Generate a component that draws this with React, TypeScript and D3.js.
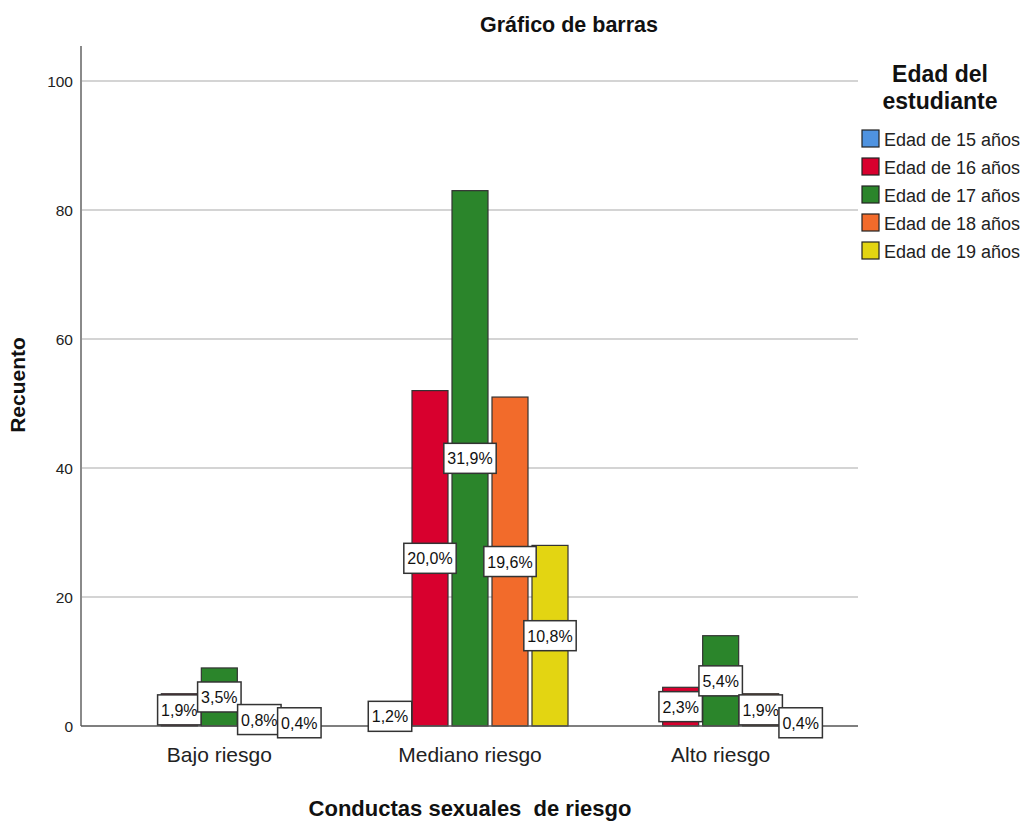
import React, { useEffect, useRef } from "react";
import * as d3 from "d3";

const categories = ["Bajo riesgo", "Mediano riesgo", "Alto riesgo"];
const series = ["Edad de 15 años", "Edad de 16 años", "Edad de 17 años", "Edad de 18 años", "Edad de 19 años"];
const colors = ["#4f93e0", "#d8002e", "#2b852b", "#f26b2b", "#e3d512"];
// counts per category, one value per age
const bajo = [0, 5, 9, 2, 1];
const mediano = [3, 52, 83, 51, 28];
const alto = [0, 6, 14, 5, 1];
const pctBajo = ["", "1,9%", "3,5%", "0,8%", "0,4%"];
const pctMediano = ["1,2%", "20,0%", "31,9%", "19,6%", "10,8%"];
const pctAlto = ["", "2,3%", "5,4%", "1,9%", "0,4%"];
const yTicks = [0, 20, 40, 60, 80, 100];

const counts = [bajo, mediano, alto];
const pcts = [pctBajo, pctMediano, pctAlto];

export default function App() {
  const ref = useRef<SVGSVGElement>(null);

  useEffect(() => {
    if (!ref.current) return;
    const svg = d3.select(ref.current);
    svg.selectAll("*").remove();
    const font = "'Liberation Sans', Arial, sans-serif";

    const left = 81, right = 858, bottom = 726;
    const y = d3.scaleLinear().domain([0, 100]).range([bottom, 81]);
    const x = d3.scaleBand<string>().domain(categories).range([94, 846]);
    const inner = d3.scaleBand<string>().domain(series).range([0, 200]).paddingInner(0.1).paddingOuter(0.05);
    const groupOffset = (x.bandwidth() - 200) / 2;

    svg.append("text")
      .attr("x", 569).attr("y", 32)
      .attr("text-anchor", "middle")
      .attr("font-family", font).attr("font-weight", "bold").attr("font-size", 21.5)
      .attr("fill", "#111")
      .text("Gráfico de barras");

    // grid
    svg.append("g").selectAll("line")
      .data(yTicks.filter((t) => t > 0))
      .join("line")
      .attr("x1", left).attr("x2", right)
      .attr("y1", (d) => y(d)).attr("y2", (d) => y(d))
      .attr("stroke", "#d4d4d4").attr("stroke-width", 2);

    svg.append("line")
      .attr("x1", left).attr("x2", left).attr("y1", 46).attr("y2", bottom)
      .attr("stroke", "#8a8a8a").attr("stroke-width", 2);

    svg.append("g").selectAll("text")
      .data(yTicks)
      .join("text")
      .attr("x", 73).attr("y", (d) => y(d) + 6)
      .attr("text-anchor", "end")
      .attr("font-family", font).attr("font-size", 15.5).attr("fill", "#222")
      .text((d) => d);

    categories.forEach((c, ci) => {
      const g = svg.append("g").attr("transform", `translate(${(x(c) ?? 0) + groupOffset},0)`);
      const vals = counts[ci];
      g.selectAll("rect")
        .data(vals.map((v, i) => ({ v, i })).filter((d) => d.v > 0))
        .join("rect")
        .attr("x", (d) => inner(series[d.i]) ?? 0)
        .attr("width", inner.bandwidth())
        .attr("y", (d) => y(d.v))
        .attr("height", (d) => bottom - y(d.v))
        .attr("fill", (d) => colors[d.i])
        .attr("stroke", "#333").attr("stroke-width", 1.2);
    });

    // baseline
    svg.append("line")
      .attr("x1", left).attr("x2", right).attr("y1", bottom).attr("y2", bottom)
      .attr("stroke", "#555").attr("stroke-width", 1.5);

    categories.forEach((c, ci) => {
      const g = svg.append("g").attr("transform", `translate(${(x(c) ?? 0) + groupOffset},0)`);
      const vals = counts[ci];
      const items = vals.map((v, i) => ({ v, i, t: pcts[ci][i] })).filter((d) => d.t !== "");
      const lab = g.selectAll("g").data(items).join("g")
        .attr("transform", (d) => `translate(${(inner(series[d.i]) ?? 0) + inner.bandwidth() / 2},${(y(d.v) + bottom) / 2})`);
      const rects = lab.append("rect")
        .attr("y", -15).attr("height", 30)
        .attr("fill", "#fff").attr("stroke", "#333").attr("stroke-width", 1.5);
      const texts = lab.append("text")
        .attr("y", 6).attr("text-anchor", "middle")
        .attr("font-family", font).attr("font-size", 16).attr("fill", "#111")
        .text((d) => d.t);
      texts.each(function (this: SVGTextElement, d, i) {
        const w = this.getComputedTextLength() + 7;
        d3.select(rects.nodes()[i]).attr("x", -w / 2).attr("width", w);
      });
    });

    svg.append("g").selectAll("text")
      .data(categories)
      .join("text")
      .attr("x", (d) => (x(d) ?? 0) + x.bandwidth() / 2)
      .attr("y", 762)
      .attr("text-anchor", "middle")
      .attr("font-family", font).attr("font-size", 21).attr("fill", "#222")
      .text((d) => d);

    svg.append("text")
      .attr("x", 470).attr("y", 816)
      .attr("text-anchor", "middle")
      .attr("font-family", font).attr("font-weight", "bold").attr("font-size", 22)
      .attr("fill", "#111")
      .attr("xml:space", "preserve")
      .text("Conductas sexuales  de riesgo");

    svg.append("text")
      .attr("transform", "translate(25,385) rotate(-90)")
      .attr("text-anchor", "middle")
      .attr("font-family", font).attr("font-weight", "bold").attr("font-size", 21)
      .attr("fill", "#111")
      .text("Recuento");

    // legend
    const lg = svg.append("g");
    ["Edad del", "estudiante"].forEach((t, i) => {
      lg.append("text")
        .attr("x", 940).attr("y", 82 + i * 27)
        .attr("text-anchor", "middle")
        .attr("font-family", font).attr("font-weight", "bold").attr("font-size", 23)
        .attr("fill", "#111")
        .text(t);
    });
    const items = lg.selectAll("g.item").data(series).join("g")
      .attr("class", "item")
      .attr("transform", (d, i) => `translate(862,${130 + i * 28})`);
    items.append("rect")
      .attr("width", 17).attr("height", 17)
      .attr("fill", (d, i) => colors[i])
      .attr("stroke", "#222").attr("stroke-width", 1.2);
    items.append("text")
      .attr("x", 22).attr("y", 15.5)
      .attr("font-family", font).attr("font-size", 18).attr("fill", "#222")
      .text((d) => d);
  }, []);

  return (
    <svg ref={ref} width={1021} height={822} style={{ position: "fixed", left: 0, top: 0, background: "#fff" }} />
  );
}
